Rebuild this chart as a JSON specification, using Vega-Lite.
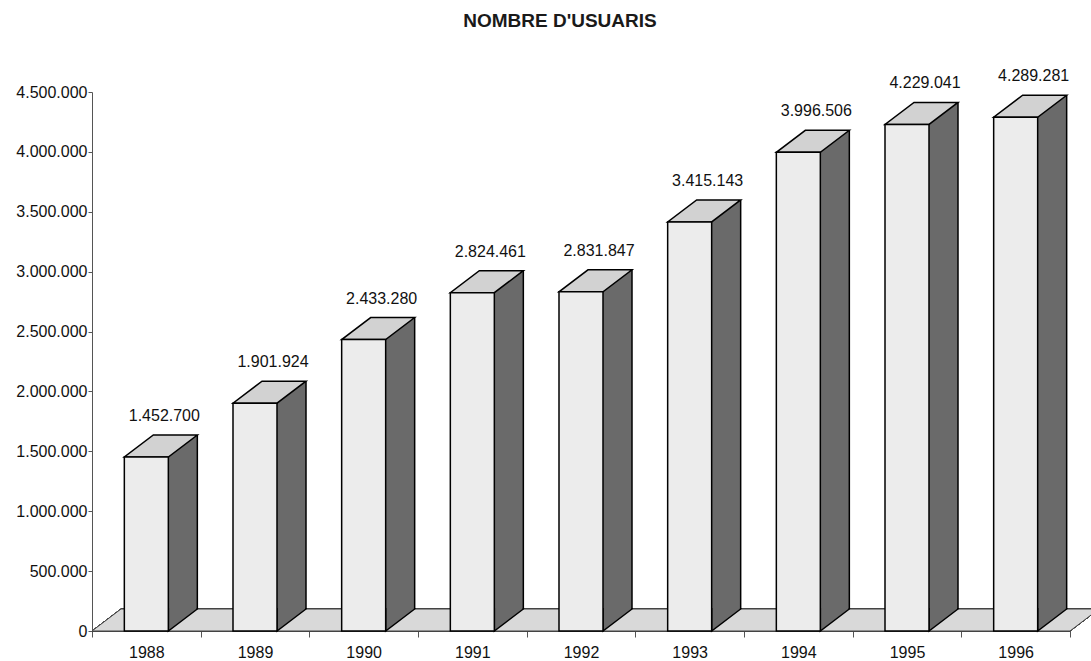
{
  "$schema": "https://vega.github.io/schema/vega-lite/v6.json",
  "width": 978,
  "height": 539,
  "autosize": "none",
  "padding": {"left": 92, "top": 92, "right": 21, "bottom": 30},
  "background": "white",
  "config": {
    "locale": {"number": {"decimal": ",", "thousands": ".", "grouping": [3], "currency": ["", " €"]}},
    "view": {"stroke": null},
    "font": "Liberation Sans"
  },
  "title": {
    "text": "NOMBRE D'USUARIS",
    "font": "Liberation Sans",
    "fontSize": 19,
    "fontWeight": "bold",
    "color": "#1a1a1a",
    "anchor": "middle",
    "frame": "group",
    "dx": -21,
    "offset": 37
  },
  "data": {
    "values": [
      {"year": 1988, "value": 1452700},
      {"year": 1989, "value": 1901924},
      {"year": 1990, "value": 2433280},
      {"year": 1991, "value": 2824461},
      {"year": 1992, "value": 2831847},
      {"year": 1993, "value": 3415143},
      {"year": 1994, "value": 3996506},
      {"year": 1995, "value": 4229041},
      {"year": 1996, "value": 4289281}
    ]
  },
  "encoding": {
    "x": {
      "field": "year",
      "type": "ordinal",
      "scale": {"paddingInner": 0, "paddingOuter": 0},
      "axis": {
        "title": null,
        "labelAngle": 0,
        "tickBand": "extent",
        "tickSize": 6,
        "labelPadding": 7,
        "labelFontSize": 16,
        "labelFont": "Liberation Sans",
        "labelColor": "#111",
        "domainColor": "#222",
        "tickColor": "#555",
        "grid": false
      }
    },
    "y": {
      "field": "value",
      "type": "quantitative",
      "scale": {"domain": [0, 4500000], "nice": false, "zero": true},
      "axis": {
        "title": null,
        "grid": false,
        "values": [0, 500000, 1000000, 1500000, 2000000, 2500000, 3000000, 3500000, 4000000, 4500000],
        "format": ",d",
        "tickSize": 4,
        "labelPadding": 1,
        "labelFontSize": 16,
        "labelFont": "Liberation Sans",
        "labelColor": "#111",
        "domainColor": "#555",
        "tickColor": "#555"
      }
    }
  },
  "layer": [
    {
      "mark": {"type": "point", "shape": "M -489 0 L 489 0 L 518 -22 L -460 -22 Z", "size": 4, "filled": true, "fill": "#d9d9d9", "stroke": "#444", "strokeWidth": 1, "opacity": 1},
      "encoding": {"x": {"datum": 1992}, "y": {"datum": 0}}
    },
    {
      "mark": {"type": "bar", "width": 29, "xOffset": 36.5, "yOffset": -22, "y2Offset": -22, "fill": "#6a6a6a", "strokeWidth": 0},
      "encoding": {"y2": {"datum": 0}}
    },
    {
      "mark": {"type": "point", "shape": "M 0 -23 L 0 0 L 29 -22 L 29 -23", "size": 4, "filled": true, "fill": "#6a6a6a", "stroke": "black", "strokeWidth": 1.5, "opacity": 1, "xOffset": 22},
      "encoding": {"y": {"datum": 0}}
    },
    {
      "mark": {"type": "rule", "xOffset": 51, "yOffset": -22, "y2Offset": -22, "stroke": "black", "strokeWidth": 1.5},
      "encoding": {"y2": {"datum": 0}}
    },
    {
      "mark": {"type": "point", "shape": "M 0 0 L 44 0 L 73 -22 L 29 -22 Z", "size": 4, "filled": true, "fill": "#d2d2d2", "stroke": "black", "strokeWidth": 1.5, "opacity": 1, "xOffset": -22}
    },
    {
      "mark": {"type": "bar", "width": 44, "fill": "#ececec", "stroke": "black", "strokeWidth": 1.5},
      "encoding": {"y2": {"datum": 0}}
    },
    {
      "mark": {"type": "text", "xOffset": 18, "yOffset": -36, "baseline": "alphabetic", "align": "center", "fontSize": 16, "font": "Liberation Sans", "color": "#111"},
      "encoding": {"text": {"field": "value", "type": "quantitative", "format": ",d"}}
    }
  ]
}
